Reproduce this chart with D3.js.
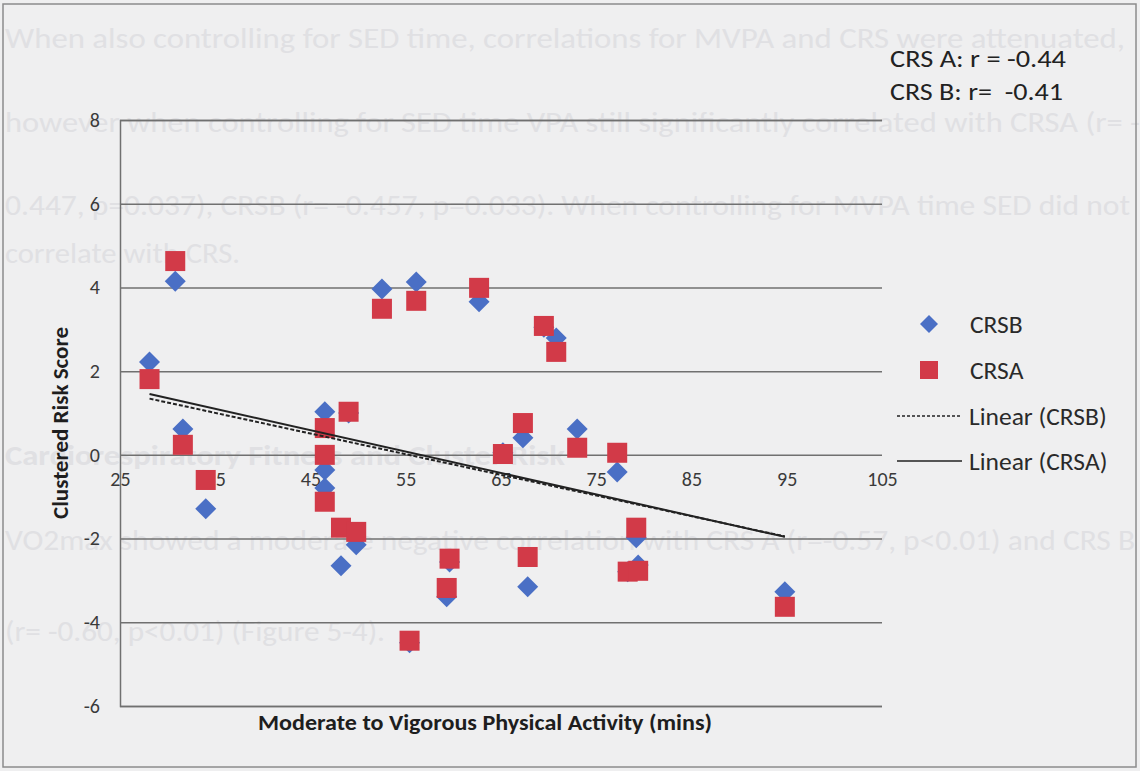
<!DOCTYPE html>
<html>
<head>
<meta charset="utf-8">
<script src="https://cdn.jsdelivr.net/npm/d3@7"></script>
<style>
  body { margin: 0; background: #efeff0; }
  svg { display: block; }
  text { font-family: Carlito, Lato, "Open Sans", sans-serif; fill: #333; }
</style>
</head>
<body>
<script>
// values
const mvpa = [28.1, 30.8, 31.6, 34.0, 46.5, 46.5, 46.5, 48.2, 49.0, 49.8, 52.5, 56.1, 55.4, 59.6, 59.3, 62.7, 65.2, 67.3, 67.8, 69.5, 70.8, 73.0, 77.2, 79.2, 78.3, 79.4, 94.8]
const crsb = [2.22, 4.15, 0.62, -1.29, 1.03, -0.36, -0.79, -2.65, 1.0, -2.15, 3.96, 4.13, -4.49, -2.56, -3.39, 3.66, 0.05, 0.41, -3.15, 3.05, 2.79, 0.62, -0.41, -1.98, -2.79, -2.63, -3.27]
const crsa = [1.81, 4.63, 0.24, -0.6, 0.64, 0.0, -1.12, -1.74, 1.03, -1.84, 3.49, 3.68, -4.44, -2.48, -3.18, 3.99, 0.02, 0.76, -2.44, 3.08, 2.46, 0.17, 0.05, -1.74, -2.79, -2.77, -3.63]
const xTicks = [25, 35, 45, 55, 65, 75, 85, 95, 105]
const yTicks = [-6, -4, -2, 0, 2, 4, 6, 8]
const rLabels = ["CRS A: r = -0.44", "CRS B: r=  -0.41"]
const legendNames = ["CRSB", "CRSA", "Linear (CRSB)", "Linear (CRSA)"]
// faint page text showing through the scan
const ghostLines = [
    "When also controlling for SED time, correlations for MVPA and CRS were attenuated,",
    "however when controlling for SED time VPA still significantly correlated with CRSA (r= -",
    "0.447, p=0.037), CRSB (r= -0.457, p=0.033). When controlling for MVPA time SED did not",
    "correlate with CRS.",
    "Cardiorespiratory Fitness and Cluster Risk",
    "VO2max showed a moderate negative correlation with CRS A (r=-0.57, p<0.01) and CRS B",
    "(r= -0.60, p<0.01) (Figure 5-4)."
]
const ghostY = [48, 132, 215, 263, 465, 550, 641]
const ghostW = [1120, 1135, 1125, 235, 560, 1130, 380]

const W = 1140, H = 771
const blue = "#4a6fc5", red = "#d23a48"

const svg = d3.select("body").append("svg")
    .attr("width", W)
    .attr("height", H)

svg.selectAll(".ghost")
    .data(ghostLines)
    .enter()
    .append("text")
    .attr("class", "ghost")
    .attr("x", 5)
    .attr("y", (d, i) => ghostY[i])
    .attr("textLength", (d, i) => ghostW[i])
    .attr("lengthAdjust", "spacingAndGlyphs")
    .style("font-size", "29px")
    .style("font-weight", (d, i) => i == 4 ? "bold" : "normal")
    .style("fill", "#e0e0e3")
    .text(d => d)

svg.append("rect")
    .attr("x", 3).attr("y", 4)
    .attr("width", 1133).attr("height", 763)
    .attr("fill", "none")
    .attr("stroke", "#8c8c8c")
    .attr("stroke-width", 1.5)

const xScale = d3.scaleLinear().domain([25, 105]).range([120, 882])
const yScale = d3.scaleLinear().domain([-6, 8]).range([706, 120])

// gridlines + y labels
const yAxis = d3.axisLeft(yScale)
    .tickValues(yTicks)
    .tickSize(-(882 - 120))
    .tickPadding(20)
    .tickFormat(d => d)

const gy = svg.append("g")
    .attr("transform", "translate(120,0)")
    .call(yAxis)
gy.select(".domain").attr("stroke", "#707070").attr("stroke-width", 1.5)
gy.selectAll(".tick line").attr("stroke", "#707070").attr("stroke-width", 1.5)
gy.selectAll(".tick text").style("font-size", "20px").style("fill", "#3a3a3a")
    .style("font-family", "Carlito, Lato, sans-serif")

const xAxis = d3.axisBottom(xScale)
    .tickValues(xTicks)
    .tickSize(0)
    .tickPadding(17)
    .tickFormat(d => d)

const gx = svg.append("g")
    .attr("transform", "translate(0," + yScale(0) + ")")
    .call(xAxis)
gx.select(".domain").remove()
gx.selectAll(".tick text").style("font-size", "20px").style("fill", "#3a3a3a")
    .style("font-family", "Carlito, Lato, sans-serif")

// trendlines (least squares, as excel does)
function fit(xs, ys) {
    const mx = d3.mean(xs), my = d3.mean(ys)
    let sxy = 0, sxx = 0
    xs.forEach((x, i) => { sxy += (x - mx) * (ys[i] - my); sxx += (x - mx) * (x - mx) })
    const b = sxy / sxx
    return x => my + b * (x - mx)
}
const x0 = d3.min(mvpa), x1 = d3.max(mvpa)
const fb = fit(mvpa, crsb), fa = fit(mvpa, crsa)

svg.selectAll(".crsb")
    .data(mvpa)
    .enter()
    .append("path")
    .attr("class", "crsb")
    .attr("d", "M0,-10.5L10.5,0L0,10.5L-10.5,0Z")
    .attr("transform", (d, i) => "translate(" + xScale(d) + "," + yScale(crsb[i]) + ")")
    .attr("fill", blue)

svg.selectAll(".crsa")
    .data(mvpa)
    .enter()
    .append("rect")
    .attr("class", "crsa")
    .attr("x", d => xScale(d) - 10)
    .attr("y", (d, i) => yScale(crsa[i]) - 10)
    .attr("width", 20)
    .attr("height", 20)
    .attr("fill", red)

svg.append("line")
    .attr("x1", xScale(x0)).attr("y1", yScale(fb(x0)))
    .attr("x2", xScale(x1)).attr("y2", yScale(fb(x1)))
    .attr("stroke", "#222").attr("stroke-width", 2)
    .attr("stroke-dasharray", "4,2")

svg.append("line")
    .attr("x1", xScale(x0)).attr("y1", yScale(fa(x0)))
    .attr("x2", xScale(x1)).attr("y2", yScale(fa(x1)))
    .attr("stroke", "#222").attr("stroke-width", 2)

// r labels
svg.selectAll(".rlab")
    .data(rLabels)
    .enter()
    .append("text")
    .attr("class", "rlab")
    .attr("x", 890)
    .attr("y", (d, i) => 67 + i * 33)
    .attr("textLength", (d, i) => i == 0 ? 176 : 173)
    .attr("lengthAdjust", "spacingAndGlyphs")
    .style("font-size", "24px")
    .style("fill", "#222")
    .style("white-space", "pre")
    .text(d => d)

// legend
const lg = svg.append("g")
lg.append("path").attr("d", "M0,-9L9,0L0,9L-9,0Z")
    .attr("transform", "translate(929,324)").attr("fill", blue)
lg.append("rect").attr("x", 920).attr("y", 361).attr("width", 18).attr("height", 18).attr("fill", red)
lg.append("line").attr("x1", 897).attr("x2", 962).attr("y1", 416).attr("y2", 416)
    .attr("stroke", "#222").attr("stroke-width", 1.5).attr("stroke-dasharray", "3,2")
lg.append("line").attr("x1", 897).attr("x2", 962).attr("y1", 461).attr("y2", 461)
    .attr("stroke", "#222").attr("stroke-width", 1.5)
lg.selectAll("text")
    .data(legendNames)
    .enter()
    .append("text")
    .attr("x", (d, i) => i < 2 ? 970 : 969)
    .attr("y", (d, i) => [324, 370, 416, 461][i])
    .attr("dy", "0.35em")
    .style("font-size", "25.5px")
    .style("fill", "#2a2a2a")
    .text(d => d)

// axis titles
svg.append("text")
    .attr("x", 485).attr("y", 730)
    .attr("text-anchor", "middle")
    .attr("textLength", 454)
    .attr("lengthAdjust", "spacingAndGlyphs")
    .style("font-size", "22px").style("font-weight", "bold")
    .style("fill", "#1e1e1e")
    .text("Moderate to Vigorous Physical Activity (mins)")

svg.append("text")
    .attr("transform", "translate(68,423) rotate(-90)")
    .attr("text-anchor", "middle")
    .attr("textLength", 192)
    .attr("lengthAdjust", "spacingAndGlyphs")
    .style("font-size", "22px").style("font-weight", "bold")
    .style("fill", "#1e1e1e")
    .text("Clustered Risk Score")
</script>
</body>
</html>
